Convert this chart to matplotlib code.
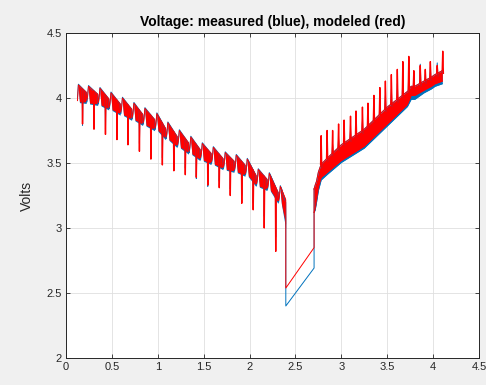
import numpy as np
import matplotlib
matplotlib.use("Agg")
import matplotlib.pyplot as plt

# ---- discharge phase: pulse cycles ----
dis_peak_x = [0.135, 0.245, 0.37, 0.49, 0.615, 0.74, 0.86, 0.99, 1.11, 1.235,
              1.36, 1.485, 1.605, 1.735, 1.855, 1.975, 2.095, 2.215, 2.335]
dis_peak_v = [4.10, 4.09, 4.075, 4.04, 4.00, 3.96, 3.92, 3.88, 3.81, 3.75,
              3.70, 3.65, 3.62, 3.58, 3.56, 3.53, 3.45, 3.42, 3.32]
dis_spike_x = [0.18, 0.305, 0.43, 0.555, 0.675, 0.80, 0.925, 1.05, 1.175, 1.30,
               1.42, 1.545, 1.67, 1.79, 1.915, 2.04, 2.16, 2.285]
dis_spike_red = [3.80, 3.76, 3.72, 3.68, 3.64, 3.59, 3.53, 3.485, 3.44, 3.41,
                 3.39, 3.33, 3.31, 3.25, 3.19, 3.14, 3.00, 2.82]
dis_spike_blue = [3.79, 3.80, 3.76, 3.73, 3.69, 3.65, 3.59, 3.54, 3.50, 3.46,
                  3.38, 3.32, 3.36, 3.30, 3.25, 3.19, 3.09, 2.93]
dis_start_v = [3.98, 4.00]          # red, blue at first sample
dis_end_x = 2.393
dis_end_top = [3.22, 3.20]          # red, blue
dis_end_bot = [3.03, 3.00]

# ---- rest gap ----
gap_x = [2.395, 2.703]
gap_red = [2.538, 2.849]
gap_blue = [2.400, 2.692]

# ---- charge phase ----
chg_x = [2.703, 2.715, 2.73, 2.75, 2.78, 2.85, 3.0, 3.25, 3.5, 3.72, 3.76,
         3.80, 3.90, 3.98, 4.02, 4.10]
chg_top = [3.30, 3.33, 3.36, 3.43, 3.49, 3.54, 3.64, 3.76, 3.93, 4.05, 4.09,
           4.09, 4.13, 4.16, 4.18, 4.21]
chg_bot_red = [3.12, 3.15, 3.22, 3.31, 3.39, 3.43, 3.52, 3.63, 3.80, 3.95,
               4.02, 4.02, 4.06, 4.09, 4.11, 4.13]
chg_bot_blue = [3.12, 3.14, 3.20, 3.29, 3.37, 3.415, 3.505, 3.615, 3.785, 3.935,
                3.99, 3.99, 4.04, 4.07, 4.09, 4.11]
chg_spike_x = [2.78, 2.845, 2.905, 2.97, 3.03, 3.10, 3.16, 3.23, 3.29, 3.355,
               3.42, 3.48, 3.545, 3.61, 3.67, 3.735, 3.79, 3.86, 3.915, 3.97,
               4.045, 4.105]
chg_spike_red = [3.71, 3.75, 3.75, 3.80, 3.83, 3.86, 3.90, 3.93, 3.96, 4.02,
                 4.08, 4.13, 4.18, 4.22, 4.28, 4.32, 4.21, 4.25, 4.22, 4.28,
                 4.25, 4.36]
chg_spike_blue = [3.60, 3.62, 3.64, 3.68, 3.72, 3.75, 3.79, 3.82, 3.86, 3.92,
                  3.98, 4.02, 4.07, 4.11, 4.16, 4.20, 4.16, 4.26, 4.18, 4.24,
                  4.27, 4.22]

x_ticks = [0, 0.5, 1, 1.5, 2, 2.5, 3, 3.5, 4, 4.5]
y_ticks = [2, 2.5, 3, 3.5, 4, 4.5]

BLUE = "#0072BD"
RED = "#FF0000"
INK = "#262626"


def discharge(spike_v, start_v, end_top, end_bot, lift, dip):
    """Polyline, spike polyline and band polygons for the pulse-discharge part."""
    xs, ys = [dis_peak_x[0] - 0.01], [start_v]
    sxs, sys_ = [], []
    bands = []
    n = len(dis_peak_x)
    for i in range(n):
        px, pv = dis_peak_x[i], dis_peak_v[i] + lift
        if i < n - 1:
            tx = dis_peak_x[i + 1] - 0.025
            t_top = dis_peak_v[i + 1] - 0.045
            t_bot = dis_peak_v[i + 1] - 0.12 - dip
        else:
            tx, t_top, t_bot = dis_end_x, end_top, end_bot
        bx = [px, px + 0.012, tx]
        btop = [pv, pv - 0.015, t_top]
        bbot = [pv - 0.04, pv - 0.13 - dip, t_bot]
        bands.append((bx, btop, bbot))
        xs += [px]
        ys += [pv]
        if i < len(dis_spike_x):
            sx = dis_spike_x[i]
            st = np.interp(sx, bx, btop)
            sxs += [sx - 0.004, sx, sx + 0.005, np.nan]
            sys_ += [st, spike_v[i], st - 0.03, np.nan]
        xs += [tx]
        ys += [t_top]
        if i < n - 1:
            xs += [tx + 0.006, tx + 0.014]
            ys += [t_bot + 0.01, t_bot + 0.04]
    return xs, ys, sxs, sys_, bands


def charge(spike_x, spike_v):
    px, py = [], []
    for sx, sv in zip(spike_x, spike_v):
        t = np.interp(sx, chg_x, chg_top)
        px += [sx - 0.006, sx, sx + 0.007, np.nan]
        py += [t, sv, t - 0.02, np.nan]
    return px, py


fig = plt.figure(figsize=(4.86, 3.85), dpi=100, facecolor="#F0F0F0")
ax = fig.add_axes([66 / 486, 27 / 385, 413 / 486, 325 / 385])
ax.set_facecolor("white")

lw = 0.7
for color, spike_v, sidx, lift, dip, gap_v, cbot, cspk, slw in (
        (BLUE, dis_spike_blue, 1, 0.006, 0.012, gap_blue, chg_bot_blue, chg_spike_blue, 0.7),
        (RED, dis_spike_red, 0, 0.0, 0.0, gap_red, chg_bot_red, chg_spike_red, 1.0)):
    xs, ys, sxs, sys_, bands = discharge(spike_v, dis_start_v[sidx],
                                         dis_end_top[sidx], dis_end_bot[sidx],
                                         lift, dip)
    for bx, btop, bbot in bands:
        ax.fill_between(bx, bbot, btop, color=color, linewidth=0)
    # rest gap, then charge
    xs += [gap_x[0], gap_x[0], gap_x[1], gap_x[1]]
    ys += [dis_end_bot[sidx], gap_v[0], gap_v[1], chg_top[0]]
    ax.plot(xs, ys, color=color, lw=lw)
    ax.plot(sxs, sys_, color=color, lw=slw)
    spx, spy = charge(chg_spike_x, cspk)
    ax.fill_between(chg_x, cbot, chg_top, color=color, linewidth=0)
    ax.plot(chg_x, chg_top, color=color, lw=lw)
    ax.plot(chg_x, cbot, color=color, lw=lw)
    ax.plot(spx, spy, color=color, lw=slw)

ax.set_xlim(0, 4.5)
ax.set_ylim(2, 4.5)
ax.set_xticks(x_ticks)
ax.set_yticks(y_ticks)
ax.set_xticklabels([f"{t:g}" for t in x_ticks])
ax.set_yticklabels([f"{t:g}" for t in y_ticks])
ax.grid(True, color="#DFDFDF", linewidth=0.6)
ax.set_axisbelow(True)
ax.tick_params(direction="in", length=3, width=0.6, colors=INK,
               labelsize=8, top=True, right=True, pad=3)
for lab in ax.get_xticklabels() + ax.get_yticklabels():
    lab.set_fontfamily("Liberation Sans")
for s in ax.spines.values():
    s.set_color(INK)
    s.set_linewidth(0.7)

ax.set_title("Voltage: measured (blue), modeled (red)", fontsize=10,
             fontweight="bold", color="black", family="Liberation Sans", pad=5)
ax.set_ylabel("Volts", fontsize=10, color=INK, family="Liberation Sans", labelpad=9)

fig.savefig("out.png", dpi=100, facecolor=fig.get_facecolor())
